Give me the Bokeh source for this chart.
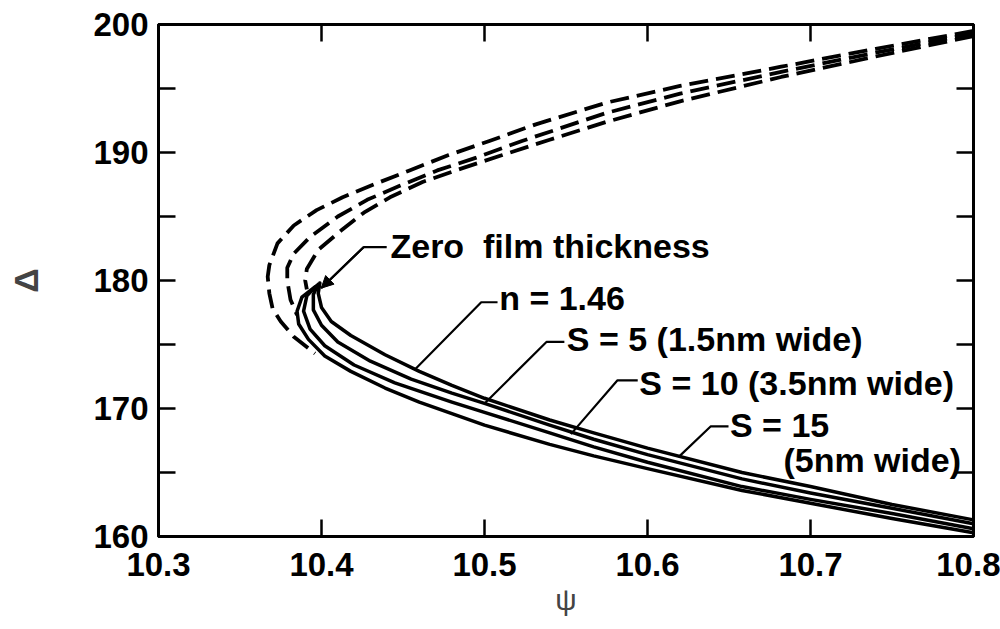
from bokeh.plotting import figure
from bokeh.models import Range1d, LinearAxis, FixedTicker, Arrow, NormalHead, PrintfTickFormatter, CustomJSTickFormatter
from bokeh.core.properties import value
from bokeh.embed import file_html
from bokeh.resources import INLINE

# ---------------- data (psi, delta) ----------------
x_ticks = [10.3, 10.4, 10.5, 10.6, 10.7, 10.8]
y_ticks = [160, 170, 180, 190, 200]
y_minor = [165, 175, 185, 195]

# dashed curves (outer, middle, inner)
dashA_psi = [10.800, 10.740, 10.682, 10.620, 10.575, 10.5315, 10.503, 10.478, 10.454, 10.434, 10.413, 10.397, 10.383, 10.373, 10.368, 10.367, 10.368, 10.370, 10.375, 10.383, 10.396]
dashA_del = [199.5, 198.1, 196.7, 195.2, 193.9, 192.2, 190.9, 189.8, 188.6, 187.6, 186.5, 185.5, 184.3, 182.9, 181.2, 180.3, 179.0, 177.8, 176.8, 175.6, 174.3]
dashB_psi = [10.800, 10.740, 10.682, 10.620, 10.575, 10.523, 10.495, 10.471, 10.448, 10.428, 10.410, 10.393, 10.383, 10.379, 10.379, 10.381, 10.385]
dashB_del = [199.3, 197.8, 196.3, 194.6, 193.1, 190.9, 189.6, 188.6, 187.4, 186.3, 185.0, 183.4, 182.1, 181.0, 180.0, 178.5, 177.3]
dashC_psi = [10.800, 10.740, 10.682, 10.620, 10.575, 10.540, 10.511, 10.487, 10.462, 10.442, 10.426, 10.412, 10.398, 10.391, 10.390, 10.391]
dashC_del = [199.1, 197.5, 195.9, 194.0, 192.4, 191.0, 189.8, 188.8, 187.7, 186.5, 185.3, 183.9, 182.4, 180.9, 180.0, 179.3]

# solid curves: n = 1.46, S = 5, S = 10, S = 15
s1_psi = [10.399, 10.398, 10.400, 10.406, 10.418, 10.439, 10.460, 10.480, 10.500, 10.540, 10.567, 10.600, 10.658, 10.700, 10.750, 10.800]
s1_del = [179.8, 179.0, 177.9, 176.8, 175.7, 174.2, 172.9, 171.8, 170.8, 169.1, 168.1, 166.9, 165.0, 163.9, 162.5, 161.3]
s2_psi = [10.398, 10.395, 10.395, 10.400, 10.410, 10.430, 10.455, 10.480, 10.500, 10.540, 10.567, 10.600, 10.658, 10.700, 10.750, 10.800]
s2_del = [179.7, 178.9, 177.7, 176.5, 175.2, 173.7, 172.3, 171.2, 170.4, 168.7, 167.6, 166.4, 164.5, 163.4, 162.2, 161.0]
s3_psi = [10.397, 10.391, 10.389, 10.393, 10.402, 10.420, 10.445, 10.480, 10.500, 10.540, 10.567, 10.600, 10.658, 10.700, 10.750, 10.800]
s3_del = [179.6, 178.8, 177.6, 176.2, 174.9, 173.4, 172.0, 170.5, 169.7, 168.1, 167.0, 165.8, 163.9, 162.9, 161.8, 160.6]
s4_psi = [10.396, 10.388, 10.385, 10.386, 10.392, 10.402, 10.418, 10.439, 10.460, 10.480, 10.500, 10.540, 10.567, 10.600, 10.658, 10.700, 10.750, 10.800]
s4_del = [179.5, 178.7, 177.6, 176.6, 175.4, 174.1, 172.9, 171.6, 170.5, 169.6, 168.7, 167.2, 166.3, 165.3, 163.6, 162.6, 161.4, 160.3]

# annotation texts and anchors
ann_text = ["Zero\u00a0 film thickness", "n = 1.46", "S = 5 (1.5nm wide)", "S = 10 (3.5nm wide)", "S = 15", "(5nm wide)"]
ann_x = [10.4423, 10.5090, 10.5505, 10.5950, 10.6506, 10.6834]
ann_y = [182.7, 178.6, 175.4, 172.0, 168.7, 166.0]

# leader lines (text end -> elbow -> curve)
lead_xs = [[10.5080, 10.4980, 10.4570],
           [10.5490, 10.5380, 10.5005],
           [10.5940, 10.5816, 10.5530],
           [10.6497, 10.6387, 10.6190]]
lead_ys = [[178.3, 178.3, 173.0],
           [175.2, 175.2, 170.45],
           [172.2, 172.2, 168.0],
           [168.6, 168.6, 166.2]]
zero_lead_x = [10.4400, 10.4258, 10.3998]
zero_lead_y = [182.6, 182.6, 179.4]

FONT = "Liberation Sans"

p = figure(width=1000, height=629,
           x_range=Range1d(10.3, 10.8), y_range=Range1d(160, 200),
           output_backend="svg", toolbar_location=None,
           min_border_left=158, min_border_right=27,
           min_border_top=24, min_border_bottom=93)
p.grid.visible = False
p.outline_line_color = "black"
p.outline_line_width = 3
p.background_fill_color = "white"
p.border_fill_color = "white"

def style_axis(ax, show_labels):
    ax.axis_line_width = 3
    ax.axis_line_color = "black"
    ax.major_tick_in = 17
    ax.major_tick_out = 0
    ax.minor_tick_in = 17
    ax.minor_tick_out = 0
    ax.major_tick_line_width = 2.5
    ax.minor_tick_line_width = 2.5
    ax.major_tick_line_color = "black"
    ax.minor_tick_line_color = "black"
    if show_labels:
        ax.major_label_text_font = FONT
        ax.major_label_text_font_style = "bold"
        ax.major_label_text_font_size = "33px"
        ax.major_label_text_color = "black"
    else:
        ax.formatter = CustomJSTickFormatter(code="return ''")
        ax.major_label_standoff = 0

xt = FixedTicker(ticks=x_ticks, minor_ticks=[])
yt = FixedTicker(ticks=y_ticks, minor_ticks=y_minor)

xa = p.xaxis[0]
xa.ticker = xt
xa.formatter = PrintfTickFormatter(format="%.1f")
style_axis(xa, True)
xa.major_label_standoff = 16
xa.axis_label = "ψ"
xa.axis_label_text_font = FONT
xa.axis_label_text_font_style = "normal"
xa.axis_label_text_font_size = "30px"
xa.axis_label_standoff = 4

ya = p.yaxis[0]
ya.ticker = yt
ya.formatter = PrintfTickFormatter(format="%d")
style_axis(ya, True)
ya.major_label_standoff = 10
ya.axis_label = "Δ"
ya.axis_label_text_font = FONT
ya.axis_label_text_font_style = "bold"
ya.axis_label_text_font_size = "34px"
ya.axis_label_standoff = 45

top = LinearAxis(ticker=xt)
style_axis(top, False)
p.add_layout(top, "above")
right = LinearAxis(ticker=yt)
style_axis(right, False)
p.add_layout(right, "right")

# dashed curves
for xs, ys in [(dashA_psi, dashA_del), (dashB_psi, dashB_del), (dashC_psi, dashC_del)]:
    p.line(xs, ys, line_color="black", line_width=3.8, line_dash="19 8", line_join="round")

# solid curves
for xs, ys in [(s1_psi, s1_del), (s2_psi, s2_del), (s3_psi, s3_del), (s4_psi, s4_del)]:
    p.line(xs, ys, line_color="black", line_width=3.5, line_join="round", line_cap="round")

# leaders
p.multi_line(lead_xs, lead_ys, line_color="black", line_width=2.2)
p.line(zero_lead_x, zero_lead_y, line_color="black", line_width=2.2)
p.add_layout(Arrow(end=NormalHead(size=12, fill_color="black", line_color="black"),
                   x_start=zero_lead_x[1], y_start=zero_lead_y[1],
                   x_end=zero_lead_x[2], y_end=zero_lead_y[2],
                   line_color="black", line_width=2.2))

p.text(ann_x, ann_y, text=ann_text, text_font=value(FONT), text_font_style="bold",
       text_font_size="34px", text_align="left", text_baseline="middle", text_color="black")

open("out.html", "w").write(file_html(p, INLINE))
